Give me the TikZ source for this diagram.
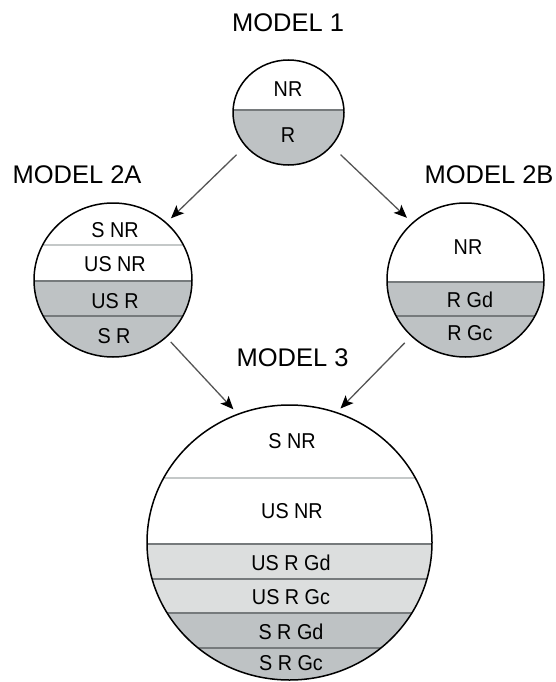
\documentclass[tikz,border=0pt]{standalone}
\usepackage{fontspec}
\usetikzlibrary{shapes.geometric,arrows.meta}
\newfontfamily\titlefamily{Liberation Sans}
\newfontfamily\labelfamily[FakeStretch=0.92]{Liberation Sans}
\definecolor{bandDark}{HTML}{BEC2C4}
\definecolor{bandLight}{HTML}{DCDEDE}
\definecolor{lineSoft}{HTML}{C4C8C8}
\definecolor{lineHard}{HTML}{767A7C}
\definecolor{linkGray}{HTML}{555555}
\tikzset{
  model/.style={ellipse, draw=black, line width=1.5pt, inner sep=0pt},
  title/.style={font=\titlefamily\fontsize{25.5}{28}\selectfont, inner sep=0pt},
  lab/.style={font=\labelfamily\fontsize{21.5}{24}\selectfont, inner sep=0pt},
  darkband/.style={fill=bandDark},
  lightband/.style={fill=bandLight},
  softline/.style={draw=lineSoft, line width=2pt},
  hardline/.style={draw=lineHard, line width=1.4pt},
  link/.style={draw=linkGray, line width=1.3pt,
    -{Stealth[length=13pt, width=11pt, inset=3pt, color=black]}}
}
\begin{document}
\begin{tikzpicture}[x=1pt, y=-1pt]
\useasboundingbox (0,0) rectangle (555,682);

% ---- Model 1 ----
\node[title] (t1) at (288,22.5) {MODEL 1};
\begin{scope}
  \clip (288.5,112.5) ellipse [x radius=55.5, y radius=52.5];
  \fill[darkband] (220,110) rectangle (360,170);
  \draw[hardline] (220,110) -- (360,110);
\end{scope}
\node[model, minimum width=111pt, minimum height=105pt] (m1) at (288.5,112.5) {};
\node[lab] (m1a) at (288,89) {NR};
\node[lab] (m1b) at (288,135) {R};

% ---- Model 2A ----
\node[title] (t2a) at (77,175) {MODEL 2A};
\begin{scope}
  \clip (113,280) ellipse [x radius=79, y radius=77];
  \fill[darkband] (30,281) rectangle (200,360);
  \draw[softline] (30,245) -- (200,245);
  \draw[hardline] (30,281) -- (200,281);
  \draw[hardline] (30,316) -- (200,316);
\end{scope}
\node[model, minimum width=158pt, minimum height=154pt] (m2a) at (113,280) {};
\node[lab] (m2aa) at (115,230) {S NR};
\node[lab] (m2ab) at (115,264) {US NR};
\node[lab] (m2ac) at (115,301) {US R};
\node[lab] (m2ad) at (114,336) {S R};

% ---- Model 2B ----
\node[title] (t2b) at (489,175) {MODEL 2B};
\begin{scope}
  \clip (465.5,280) ellipse [x radius=78.5, y radius=77];
  \fill[darkband] (380,282) rectangle (550,360);
  \draw[hardline] (380,282) -- (550,282);
  \draw[hardline] (380,316) -- (550,316);
\end{scope}
\node[model, minimum width=157pt, minimum height=154pt] (m2b) at (465.5,280) {};
\node[lab] (m2ba) at (468,247) {NR};
\node[lab] (m2bb) at (470,300) {R Gd};
\node[lab] (m2bc) at (470,333) {R Gc};

% ---- Model 3 ----
\node[title] (t3) at (292.5,358) {MODEL 3};
\begin{scope}
  \clip (289.5,542.5) ellipse [x radius=142.5, y radius=137.5];
  \fill[lightband] (140,544) rectangle (440,613);
  \fill[darkband] (140,613) rectangle (440,690);
  \draw[softline] (140,478) -- (440,478);
  \draw[hardline] (140,544) -- (440,544);
  \draw[hardline] (140,579) -- (440,579);
  \draw[hardline] (140,613) -- (440,613);
  \draw[hardline] (140,648) -- (440,648);
\end{scope}
\node[model, minimum width=285pt, minimum height=275pt] (m3) at (289.5,542.5) {};
\node[lab] (m3a) at (292,441) {S NR};
\node[lab] (m3b) at (292,511) {US NR};
\node[lab] (m3c) at (291,563) {US R Gd};
\node[lab] (m3d) at (291,597) {US R Gc};
\node[lab] (m3e) at (291,632) {S R Gd};
\node[lab] (m3f) at (291,663) {S R Gc};

% ---- Connectors ----
\draw[link, shorten <=12pt, shorten >=6pt] (m1.218) -- (m2a.47);
\draw[link, shorten <=12pt, shorten >=7pt] (m1.322) -- (m2b.133);
\draw[link, shorten <=6pt, shorten >=6pt] (m2a.313) -- (m3.112);
\draw[link, shorten <=9pt, shorten >=5pt] (m2b.226) -- (m3.70);
\end{tikzpicture}
\end{document}
